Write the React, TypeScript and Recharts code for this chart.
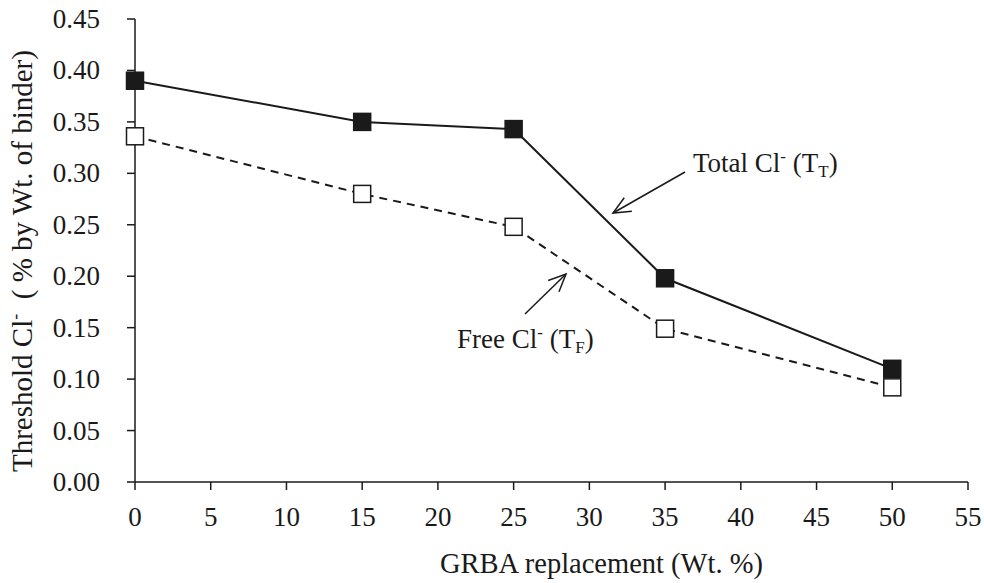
import { LineChart, Line, XAxis, YAxis, Customized } from "recharts";

const replacement = [0, 15, 25, 35, 50];
const totalCl = [0.39, 0.35, 0.343, 0.198, 0.11];
const freeCl = [0.336, 0.28, 0.248, 0.149, 0.092];
const xTicks = [0, 5, 10, 15, 20, 25, 30, 35, 40, 45, 50, 55];
const yTicks = [0, 0.05, 0.1, 0.15, 0.2, 0.25, 0.3, 0.35, 0.4, 0.45];

const data = replacement.map((x, i) => ({ x, total: totalCl[i], free: freeCl[i] }));

const INK = "#1a1a1a";
const FONT = "Liberation Serif, DejaVu Serif, serif";

const squareDot = (filled: boolean) => (props: any) => {
  const { cx, cy, index } = props;
  if (cx == null || cy == null) return <g key={index} />;
  return (
    <rect
      key={index}
      x={cx - 8.5}
      y={cy - 8.5}
      width={17}
      height={17}
      fill={filled ? INK : "#fff"}
      stroke={INK}
      strokeWidth={1.5}
    />
  );
};

const XTick = (props: any) => {
  const { x, y, payload } = props;
  return (
    <text x={x} y={y} dy={24} textAnchor="middle" fill={INK} fontSize={27} fontFamily={FONT} style={{ fontFamily: FONT }}>
      {payload.value}
    </text>
  );
};

const YTick = (props: any) => {
  const { x, y, payload } = props;
  return (
    <text x={x} y={y} dy={9} textAnchor="end" fill={INK} fontSize={27} fontFamily={FONT} style={{ fontFamily: FONT }}>
      {Number(payload.value).toFixed(2)}
    </text>
  );
};

function Arrow({ x1, y1, x2, y2 }: { x1: number; y1: number; x2: number; y2: number }) {
  const a = Math.atan2(y2 - y1, x2 - x1);
  const len = 19;
  const spread = 0.42;
  const h1 = [x2 - len * Math.cos(a - spread), y2 - len * Math.sin(a - spread)];
  const h2 = [x2 - len * Math.cos(a + spread), y2 - len * Math.sin(a + spread)];
  return (
    <g stroke={INK} strokeWidth={1.5} fill="none">
      <line x1={x1} y1={y1} x2={x2} y2={y2} />
      <polyline points={`${h1[0]},${h1[1]} ${x2},${y2} ${h2[0]},${h2[1]}`} />
    </g>
  );
}

function Annotations() {
  return (
    <g style={{ fontFamily: FONT }} fill={INK}>
      <text x={693} y={172} fontSize={27}>
        Total Cl<tspan dy={-10} fontSize={17}>-</tspan>
        <tspan dy={10}> (T</tspan>
        <tspan dy={5} fontSize={17}>T</tspan>
        <tspan dy={-5}>)</tspan>
      </text>
      <Arrow x1={685} y1={172} x2={613} y2={213} />
      <text x={457} y={348} fontSize={27}>
        Free Cl<tspan dy={-10} fontSize={17}>-</tspan>
        <tspan dy={10}> (T</tspan>
        <tspan dy={5} fontSize={17}>F</tspan>
        <tspan dy={-5}>)</tspan>
      </text>
      <Arrow x1={525} y1={314} x2={566} y2={274} />
      <text x={440} y={573} fontSize={28.5}>
        GRBA replacement (Wt. %)
      </text>
      <text x={32} y={472} fontSize={29} transform="rotate(-90 32 472)">
        Threshold Cl<tspan dy={-11} fontSize={18}>-</tspan>
        <tspan dy={11}>{"\u00a0 ( % by Wt. of binder)"}</tspan>
      </text>
    </g>
  );
}

export default function App() {
  return (
    <div
      style={{
        position: "absolute",
        left: 0,
        top: 0,
        width: 984,
        height: 583,
        background: "#fff",
        fontFamily: FONT,
      }}
    >
      <LineChart
        width={984}
        height={583}
        data={data}
        margin={{ top: 19, right: 16, bottom: 0, left: 0 }}
      >
        <XAxis
          dataKey="x"
          type="number"
          domain={[0, 55]}
          ticks={xTicks}
          interval={0}
          height={101}
          tickSize={8}
          tickMargin={12}
          stroke={INK}
          strokeWidth={1.5}
          tick={<XTick />}
        />
        <XAxis
          xAxisId="top"
          dataKey="x"
          type="number"
          orientation="top"
          domain={[0, 55]}
          height={0}
          tick={false}
          tickLine={false}
          stroke={INK}
          strokeWidth={1.5}
        />
        <YAxis
          type="number"
          domain={[0, 0.45]}
          ticks={yTicks}
          interval={0}
          width={135}
          tickSize={8}
          tickMargin={27}
          stroke={INK}
          strokeWidth={1.5}
          tick={<YTick />}
        />
        <YAxis
          yAxisId="right"
          orientation="right"
          domain={[0, 0.45]}
          width={0}
          tick={false}
          tickLine={false}
          stroke={INK}
          strokeWidth={1.5}
        />
        <Line
          type="linear"
          dataKey="free"
          stroke={INK}
          strokeWidth={2}
          strokeDasharray="8 6"
          dot={squareDot(false)}
          activeDot={false}
          isAnimationActive={false}
        />
        <Line
          type="linear"
          dataKey="total"
          stroke={INK}
          strokeWidth={2}
          dot={squareDot(true)}
          activeDot={false}
          isAnimationActive={false}
        />
        <Customized component={Annotations} />
      </LineChart>
    </div>
  );
}
